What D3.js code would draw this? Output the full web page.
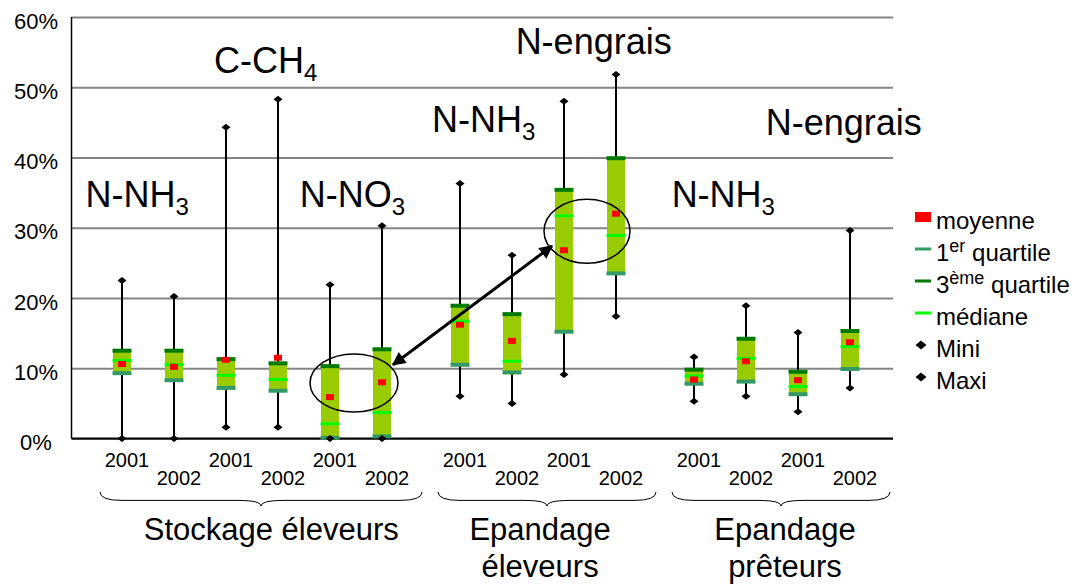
<!DOCTYPE html>
<html>
<head>
<meta charset="utf-8">
<script src="https://cdn.jsdelivr.net/npm/d3@7"></script>
<style>
  body { margin: 0; background: #fff; }
  text { font-family: "Liberation Sans", Arial, sans-serif; fill: #000; }
</style>
</head>
<body>
<script>
// values (percent)
var groupNames = [["Stockage éleveurs"], ["Epandage", "éleveurs"], ["Epandage", "prêteurs"]];
var groupSizes = [6, 4, 4];
var years  = ["2001", "2002", "2001", "2002", "2001", "2002", "2001", "2002", "2001", "2002", "2001", "2002", "2001", "2002"];
var minV   = [0, 0, 1.6, 1.6, 0, 0, 6.0, 5.0, 9.1, 17.4, 5.3, 6.0, 3.8, 7.2];
var q1     = [9.3, 8.3, 7.2, 6.8, 0.1, 0.3, 10.5, 9.4, 15.2, 23.5, 7.8, 8.1, 6.3, 9.9];
var median = [11.1, 10.5, 9.0, 8.4, 2.1, 3.7, 16.7, 11.0, 31.7, 28.9, 8.9, 11.4, 7.4, 13.1];
var q3     = [12.5, 12.5, 11.3, 10.7, 10.3, 12.7, 18.9, 17.7, 35.4, 39.9, 9.8, 14.2, 9.5, 15.3];
var maxV   = [22.5, 20.2, 44.3, 48.3, 21.9, 30.3, 36.3, 26.1, 48.0, 51.8, 11.6, 18.9, 15.1, 29.6];
var mean   = [10.6, 10.2, 11.2, 11.5, 5.9, 8.0, 16.2, 13.9, 26.8, 32.0, 8.4, 11.0, 8.3, 13.7];
var yTicks = [0, 10, 20, 30, 40, 50, 60];
var legendLabels = ["moyenne", "1er quartile", "3ème quartile", "médiane", "Mini", "Maxi"];

var width = 1091, height = 584;
var plotLeft = 71.5, plotRight = 893;

var colBox = "#99cc00", colQ1 = "#339966", colQ3 = "#007a00", colMed = "#00ff00", colMean = "#ff0000";

var svg = d3.select("body").append("svg")
    .attr("width", width)
    .attr("height", height);

svg.append("rect").attr("width", width).attr("height", height).attr("fill", "#fff");

var y = d3.scaleLinear().domain([0, 60]).range([438.5, 17]);

// slot index of each box: 1 apart inside a group, 1.5 between groups
var slots = [], groupSlots = [];
var off = 0;
groupSizes.forEach(function(n) {
    var s = [];
    for (var i = 0; i < n; i++) { slots.push(off + i); s.push(off + i); }
    groupSlots.push(s);
    off += n - 1 + 1.5;
});
var x = d3.scaleLinear().domain([0, 14]).range([122, 850]);

// gridlines + y labels
var yAxis = svg.append("g")
    .attr("transform", "translate(" + plotLeft + ",0)")
    .call(d3.axisLeft(y).tickValues(yTicks).tickSize(-(plotRight - plotLeft)).tickFormat(function(d) { return d + "%"; }));
yAxis.select(".domain").remove();
yAxis.selectAll(".tick line").attr("stroke", "#858585").attr("stroke-width", 2);
yAxis.selectAll(".tick text")
    .attr("x", 36 - plotLeft)
    .attr("dy", "0.5em")
    .attr("text-anchor", "middle")
    .attr("font-size", 22)
    .attr("font-family", "Liberation Sans, Arial, sans-serif");

// axis lines
svg.append("line").attr("x1", plotLeft).attr("x2", plotLeft).attr("y1", y(60)).attr("y2", y(0))
    .attr("stroke", "#000").attr("stroke-width", 1.5);
svg.append("line").attr("x1", plotLeft).attr("x2", plotRight).attr("y1", y(0)).attr("y2", y(0))
    .attr("stroke", "#000").attr("stroke-width", 2);

var idx = d3.range(years.length);
var bw = 18;

// whiskers
svg.append("g").selectAll("line").data(idx).enter().append("line")
    .attr("x1", function(i) { return x(slots[i]); })
    .attr("x2", function(i) { return x(slots[i]); })
    .attr("y1", function(i) { return y(minV[i]); })
    .attr("y2", function(i) { return y(maxV[i]); })
    .attr("stroke", "#000").attr("stroke-width", 2);

// boxes
svg.append("g").selectAll("rect").data(idx).enter().append("rect")
    .attr("x", function(i) { return x(slots[i]) - bw / 2; })
    .attr("y", function(i) { return y(q3[i]); })
    .attr("width", bw)
    .attr("height", function(i) { return y(q1[i]) - y(q3[i]); })
    .attr("fill", colBox);

function hline(arr, color, h, w) {
    svg.append("g").selectAll("rect").data(idx).enter().append("rect")
        .attr("x", function(i) { return x(slots[i]) - w / 2; })
        .attr("y", function(i) { return y(arr[i]) - h / 2; })
        .attr("width", w)
        .attr("height", h)
        .attr("fill", color);
}
hline(q1, colQ1, 4, 19);
hline(q3, colQ3, 4, 19);
hline(median, colMed, 3, 19);

// means
svg.append("g").selectAll("rect").data(idx).enter().append("rect")
    .attr("x", function(i) { return x(slots[i]) - 4; })
    .attr("y", function(i) { return y(mean[i]) - 3; })
    .attr("width", 8).attr("height", 6)
    .attr("fill", colMean);

// min / max diamonds
function diamond(cx, cy, w, h) {
    return "M" + (cx - w / 2) + "," + cy + "L" + cx + "," + (cy - h / 2) + "L" + (cx + w / 2) + "," + cy + "L" + cx + "," + (cy + h / 2) + "Z";
}
[minV, maxV].forEach(function(arr) {
    svg.append("g").selectAll("path").data(idx).enter().append("path")
        .attr("d", function(i) { return diamond(x(slots[i]), y(arr[i]), 9, 7); })
        .attr("fill", "#000");
});

// year labels
svg.append("g").selectAll("text").data(idx).enter().append("text")
    .attr("x", function(i) { return x(slots[i]) + 5; })
    .attr("y", function(i) { return i % 2 === 0 ? 467 : 485; })
    .attr("text-anchor", "middle")
    .attr("font-size", 20)
    .text(function(i) { return years[i]; });

// braces + group names
function brace(x0, x1, y0, h) {
    var m = (x0 + x1) / 2, q = y0 + h * 0.6, r = 22;
    return "M" + x0 + "," + y0 +
        "Q" + x0 + "," + q + " " + (x0 + r) + "," + q +
        "L" + (m - r) + "," + q +
        "Q" + m + "," + q + " " + m + "," + (y0 + h) +
        "Q" + m + "," + q + " " + (m + r) + "," + q +
        "L" + (x1 - r) + "," + q +
        "Q" + x1 + "," + q + " " + x1 + "," + y0;
}
// label centre of each group, in slot units
var nameSlot = [2.87, 8.04, 12.75];
groupSlots.forEach(function(s, g) {
    var x0 = x(s[0]) - 22, x1 = x(s[s.length - 1]) + 40;
    svg.append("path").attr("d", brace(x0, x1, 492, 14))
        .attr("fill", "none").attr("stroke", "#000").attr("stroke-width", 1);
    groupNames[g].forEach(function(line, k) {
        svg.append("text")
            .attr("x", x(nameSlot[g]))
            .attr("y", 540 + k * 37)
            .attr("text-anchor", "middle")
            .attr("font-size", 31)
            .text(line);
    });
});

// annotations: [main text, subscript, slot, percent]
var notes = [
    ["N-NH", "3", -0.7, 32.9],
    ["C-CH", "4", 1.77, 52.0],
    ["N-NO", "3", 3.42, 32.9],
    ["N-NH", "3", 5.96, 43.6],
    ["N-engrais", "", 7.57, 54.8],
    ["N-engrais", "", 12.38, 43.2],
    ["N-NH", "3", 10.57, 32.9]
];
notes.forEach(function(n) {
    var t = svg.append("text")
        .attr("x", x(n[2]))
        .attr("y", y(n[3]))
        .attr("font-size", 36)
        .text(n[0]);
    if (n[1]) t.append("tspan").attr("font-size", 24).attr("dy", 8).text(n[1]);
});

// ellipses + arrow
svg.append("ellipse")
    .attr("cx", (x(slots[4]) + x(slots[5])) / 2 - 2).attr("cy", y(7.9))
    .attr("rx", 44).attr("ry", 29)
    .attr("fill", "none").attr("stroke", "#000").attr("stroke-width", 1.5);
svg.append("ellipse")
    .attr("cx", (x(slots[8]) + x(slots[9])) / 2 - 3).attr("cy", y(29.5))
    .attr("rx", 43).attr("ry", 32)
    .attr("fill", "none").attr("stroke", "#000").attr("stroke-width", 1.5);

var defs = svg.append("defs");
["s", "e"].forEach(function(k) {
    defs.append("marker")
        .attr("id", "arr" + k)
        .attr("viewBox", "0 0 10 10")
        .attr("refX", k === "e" ? 9 : 1).attr("refY", 5)
        .attr("markerWidth", 5).attr("markerHeight", 4.5)
        .attr("markerUnits", "strokeWidth")
        .attr("orient", "auto")
        .append("path")
        .attr("d", k === "e" ? "M0,0L10,5L0,10Z" : "M10,0L0,5L10,10Z")
        .attr("fill", "#000");
});
svg.append("line")
    .attr("x1", x(slots[5]) + 11).attr("y1", y(10.5))
    .attr("x2", x(slots[8]) - 12).attr("y2", y(27.4))
    .attr("stroke", "#000").attr("stroke-width", 3)
    .attr("marker-start", "url(#arrs)").attr("marker-end", "url(#arre)");

// legend
var lg = svg.append("g").attr("transform", "translate(915,0)");
var rowY = d3.range(6).map(function(k) { return 217 + k * 32; });
lg.append("rect").attr("x", 0).attr("y", rowY[0] - 5).attr("width", 16).attr("height", 10).attr("fill", colMean);
lg.append("rect").attr("x", 0).attr("y", rowY[1] - 1.5).attr("width", 16).attr("height", 3).attr("fill", colQ1);
lg.append("rect").attr("x", 0).attr("y", rowY[2] - 1.5).attr("width", 16).attr("height", 3).attr("fill", colQ3);
lg.append("rect").attr("x", 0).attr("y", rowY[3] - 1.5).attr("width", 16).attr("height", 3).attr("fill", colMed);
lg.append("path").attr("d", diamond(6, rowY[4], 11, 9)).attr("fill", "#000");
lg.append("path").attr("d", diamond(6, rowY[5], 11, 9)).attr("fill", "#000");

legendLabels.forEach(function(lab, k) {
    var t = lg.append("text").attr("x", 21).attr("y", rowY[k] + 12).attr("font-size", 24);
    if (k === 1 || k === 2) {
        t.append("tspan").text(lab.charAt(0));
        var sp = lab.indexOf(" ");
        t.append("tspan").attr("font-size", 18).attr("dy", -9).text(lab.slice(1, sp));
        t.append("tspan").attr("dy", 9).text(lab.slice(sp));
    } else {
        t.text(lab);
    }
});
</script>
</body>
</html>
